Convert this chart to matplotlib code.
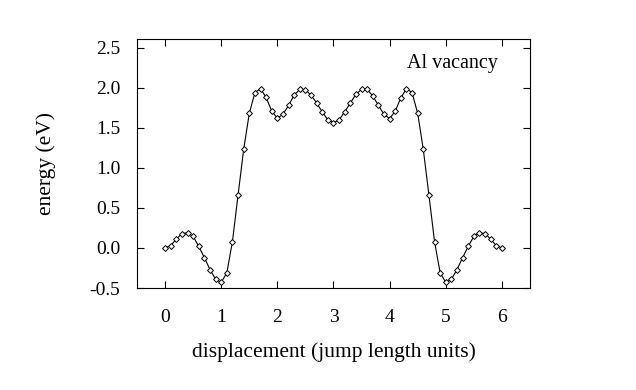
import numpy as np
import matplotlib.pyplot as plt

# displacement along the jump path, 0.1 steps
disp = [0.0, 0.1, 0.2, 0.3, 0.4, 0.5, 0.6, 0.7, 0.8, 0.9,
        1.0, 1.1, 1.2, 1.3, 1.4, 1.5, 1.6, 1.7, 1.8, 1.9,
        2.0, 2.1, 2.2, 2.3, 2.4, 2.5, 2.6, 2.7, 2.8, 2.9,
        3.0, 3.1, 3.2, 3.3, 3.4, 3.5, 3.6, 3.7, 3.8, 3.9,
        4.0, 4.1, 4.2, 4.3, 4.4, 4.5, 4.6, 4.7, 4.8, 4.9,
        5.0, 5.1, 5.2, 5.3, 5.4, 5.5, 5.6, 5.7, 5.8, 5.9, 6.0]
energy = [0.00, 0.03, 0.11, 0.18, 0.19, 0.145, 0.02, -0.12, -0.27, -0.39,
          -0.43, -0.31, 0.08, 0.66, 1.23, 1.68, 1.94, 1.99, 1.88, 1.71,
          1.62, 1.67, 1.78, 1.91, 1.98, 1.975, 1.91, 1.81, 1.70, 1.60,
          1.565, 1.60, 1.70, 1.81, 1.92, 1.98, 1.98, 1.90, 1.78, 1.67,
          1.615, 1.71, 1.875, 1.99, 1.94, 1.68, 1.23, 0.66, 0.08, -0.31,
          -0.43, -0.39, -0.27, -0.12, 0.02, 0.145, 0.19, 0.18, 0.11, 0.03, 0.00]

xticks = [0, 1, 2, 3, 4, 5, 6]
yticks = [-0.5, 0.0, 0.5, 1.0, 1.5, 2.0, 2.5]
ytick_labels = ['-0.5', '0.0', '0.5', '1.0', '1.5', '2.0', '2.5']

plt.rcParams['font.family'] = ['Liberation Serif', 'DejaVu Serif']

fig = plt.figure(figsize=(6.36, 3.9), dpi=100)
ax = fig.add_axes([0.2154, 0.2615, 0.6179, 0.6385])

ax.plot(disp, energy, color='black', linewidth=0.8,
        marker='D', markersize=3.0, markerfacecolor='white',
        markeredgecolor='black', markeredgewidth=0.7)

ax.set_xlim(-0.5, 6.5)
ax.set_ylim(-0.5, 2.61)
ax.set_xticks(xticks)
ax.set_yticks(yticks)
ax.set_yticklabels(ytick_labels)
ax.tick_params(direction='in', length=5, width=0.8, labelsize=14,
               top=True, right=True)
ax.tick_params(axis='x', pad=15)
ax.tick_params(axis='y', pad=12)
for s in ax.spines.values():
    s.set_linewidth(0.8)

ax.set_xlabel('displacement (jump length units)', fontsize=15.5, labelpad=12)
ax.set_ylabel('energy (eV)', fontsize=15.5, labelpad=24)
ax.text(5.93, 2.31, 'Al vacancy', fontsize=14.5, ha='right', va='center')

plt.savefig('out.png', dpi=100)
